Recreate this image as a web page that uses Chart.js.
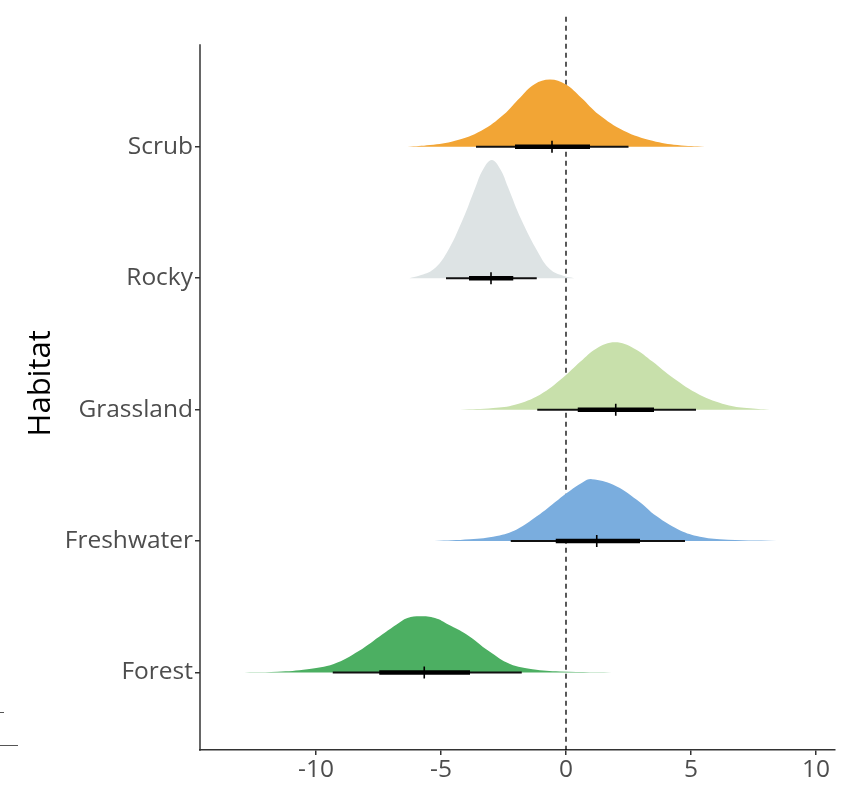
<!DOCTYPE html>
<html>
<head>
<meta charset="utf-8">
<script src="https://cdn.jsdelivr.net/npm/chart.js@4.4.1/dist/chart.umd.min.js"></script>
<style>
  html, body { margin: 0; padding: 0; background: #ffffff; }
  #wrap { width: 846px; height: 786px; }
</style>
</head>
<body>
<div id="wrap"><canvas id="c" width="846" height="786"></canvas></div>
<script>
// Habitat categories, bottom to top (row 1 = Forest)
const categories = ['Forest', 'Freshwater', 'Grassland', 'Rocky', 'Scrub'];
const colors = ['#4caf62', '#7aadde', '#c8e0ab', '#dde3e4', '#f2a535'];

// Posterior density outlines per habitat: x positions and ridge heights (in row units)
const forestX = [-13.34, -11.54, -10.34, -9.29, -8.29, -7.34, -6.79, -6.34, -5.84, -5.24, -4.69, -3.99, -3.09, -2.24, -1.34, -0.24, 2.16];
const forestH = [0, 0.006, 0.025, 0.064, 0.163, 0.291, 0.364, 0.415, 0.428, 0.415, 0.364, 0.291, 0.163, 0.064, 0.025, 0.008, 0];

const freshwaterX = [-5.27, -3.84, -2.77, -1.97, -1.17, -0.31, 0.03, 0.69, 1.03, 1.89, 2.83, 3.63, 4.49, 5.23, 6.16, 8.43];
const freshwaterH = [0, 0.013, 0.038, 0.088, 0.188, 0.315, 0.365, 0.45, 0.471, 0.429, 0.315, 0.188, 0.088, 0.038, 0.013, 0];

const grasslandX = [-4.24, -2.91, -2.04, -1.04, -0.14, 0.58, 1.22, 1.96, 2.72, 3.46, 4.29, 5.34, 6.41, 7.23, 8.16];
const grasslandH = [0, 0.013, 0.038, 0.114, 0.24, 0.366, 0.466, 0.512, 0.466, 0.366, 0.24, 0.114, 0.038, 0.013, 0];

const rockyX = [-6.27, -5.88, -5.3, -4.77, -4.13, -3.61, -3.33, -2.97, -2.61, -2.33, -1.79, -1.11, -0.64, -0.11, 0.33];
const rockyH = [0, 0.018, 0.068, 0.194, 0.446, 0.698, 0.824, 0.9, 0.824, 0.698, 0.446, 0.194, 0.068, 0.018, 0];

const scrubX = [-6.34, -5.44, -4.44, -3.39, -2.49, -1.84, -1.26, -0.64, -0.02, 0.61, 1.31, 2.31, 3.46, 4.46, 5.56];
const scrubH = [0, 0.013, 0.046, 0.123, 0.246, 0.374, 0.476, 0.512, 0.476, 0.374, 0.246, 0.123, 0.046, 0.013, 0];

// Interval summaries per habitat (same order as categories)
const lo95   = [-9.33, -2.21, -1.15, -4.8, -3.6];
const lo66   = [-7.47, -0.41, 0.47, -3.88, -2.04];
const median = [-5.67, 1.23, 1.99, -3.0, -0.56];
const hi66   = [-3.84, 2.96, 3.52, -2.11, 0.96];
const hi95   = [-1.77, 4.76, 5.2, -1.17, 2.5];

// Axis settings
const xTicks = [-10, -5, 0, 5, 10];
const xMin = -14.64, xMax = 10.76;
const yMin = 0.41, yMax = 5.99, yAxisTop = 5.78;

const densX = [forestX, freshwaterX, grasslandX, rockyX, scrubX];
const densH = [forestH, freshwaterH, grasslandH, rockyH, scrubH];

const datasets = [];
categories.forEach((name, i) => {
  const base = i + 1;
  datasets.push({
    label: name,
    data: densX[i].map((x, k) => ({ x: x, y: base + densH[i][k] })),
    backgroundColor: colors[i],
    borderColor: 'rgba(0,0,0,0)',
    borderWidth: 0,
    pointRadius: 0,
    tension: 0.4,
    fill: { value: base },
    order: 10
  });
});
categories.forEach((name, i) => {
  const base = i + 1;
  datasets.push({
    label: name + ' 95%',
    data: [{ x: lo95[i], y: base }, { x: hi95[i], y: base }],
    borderColor: '#111111',
    borderWidth: 2,
    pointRadius: 0,
    fill: false,
    order: 3
  });
  datasets.push({
    label: name + ' 66%',
    data: [{ x: lo66[i], y: base }, { x: hi66[i], y: base }],
    borderColor: '#000000',
    borderWidth: 4.5,
    pointRadius: 0,
    fill: false,
    order: 2
  });
  datasets.push({
    label: name + ' median',
    data: [{ x: median[i], y: base }],
    showLine: false,
    pointStyle: 'line',
    rotation: 90,
    pointRadius: 6,
    pointBorderWidth: 1.6,
    pointBorderColor: '#000000',
    borderColor: '#000000',
    order: 1
  });
});

// Dashed reference line at zero, drawn beneath the densities
const zeroLine = {
  id: 'zeroLine',
  beforeDatasetsDraw(chart) {
    const { ctx, chartArea, scales } = chart;
    const x = scales.x.getPixelForValue(0);
    ctx.save();
    ctx.strokeStyle = '#000000';
    ctx.lineWidth = 1.3;
    ctx.setLineDash([5, 4]);
    ctx.beginPath();
    ctx.moveTo(x, chartArea.top);
    ctx.lineTo(x, chartArea.bottom);
    ctx.stroke();
    ctx.restore();
  }
};

// Vertical axis line and small edge marks
const axisDecor = {
  id: 'axisDecor',
  afterDraw(chart) {
    const { ctx, chartArea, scales } = chart;
    ctx.save();
    ctx.strokeStyle = '#333333';
    ctx.lineWidth = 1.5;
    ctx.beginPath();
    ctx.moveTo(chartArea.left, scales.y.getPixelForValue(yAxisTop));
    ctx.lineTo(chartArea.left, chartArea.bottom + 0.75);
    ctx.stroke();
    ctx.strokeStyle = '#555555';
    ctx.lineWidth = 1.2;
    ctx.beginPath();
    ctx.moveTo(0, 745.5);
    ctx.lineTo(18, 745.5);
    ctx.moveTo(0, 712.5);
    ctx.lineTo(4, 712.5);
    ctx.stroke();
    ctx.restore();
  }
};

const tickFont = { family: "'Open Sans', sans-serif", size: 24.5 };

new Chart(document.getElementById('c'), {
  type: 'line',
  data: { datasets: datasets },
  options: {
    responsive: false,
    animation: false,
    layout: { padding: { top: 12, right: 11, left: 0, bottom: 0 } },
    plugins: { legend: { display: false }, tooltip: { enabled: false } },
    scales: {
      x: {
        type: 'linear',
        min: xMin,
        max: xMax,
        afterBuildTicks: (s) => { s.ticks = xTicks.map(v => ({ value: v })); },
        afterFit: (s) => { s.height = 36; },
        ticks: { color: '#4d4d4d', font: tickFont, padding: 0, maxRotation: 0 },
        grid: { drawOnChartArea: false, drawTicks: true, tickLength: 5, color: '#333333', lineWidth: 1.5 },
        border: { display: true, color: '#333333', width: 1.5 }
      },
      y: {
        type: 'linear',
        min: yMin,
        max: yMax,
        afterBuildTicks: (s) => { s.ticks = categories.map((c, i) => ({ value: i + 1 })); },
        afterFit: (s) => { s.width = 200; },
        ticks: {
          color: '#4d4d4d',
          font: tickFont,
          padding: 2,
          callback: (v) => categories[Math.round(v) - 1]
        },
        grid: { drawOnChartArea: false, drawTicks: true, tickLength: 5, color: '#333333', lineWidth: 1.5 },
        border: { display: false },
        title: {
          display: true,
          text: 'Habitat',
          color: '#000000',
          font: { family: "'Open Sans', sans-serif", size: 31 },
          padding: { top: 23, bottom: 0 }
        }
      }
    }
  },
  plugins: [zeroLine, axisDecor]
});
</script>
</body>
</html>
